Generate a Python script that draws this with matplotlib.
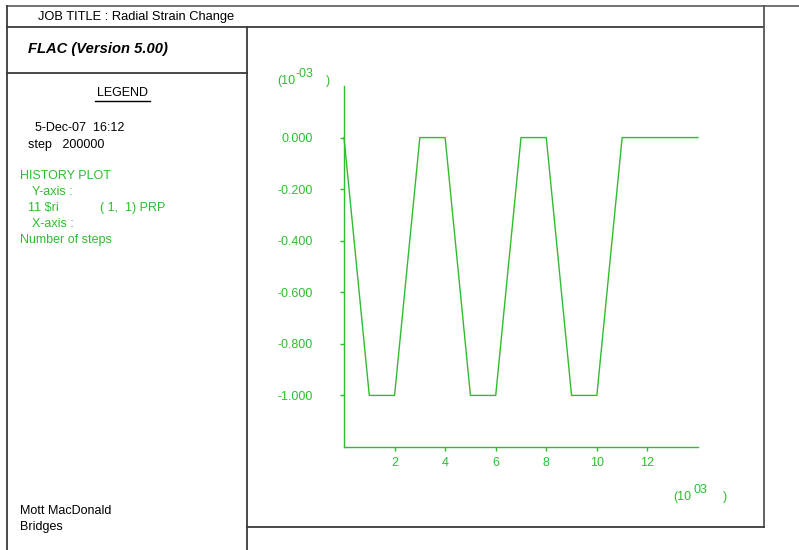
import matplotlib
matplotlib.use("Agg")
import matplotlib.pyplot as plt

plt.rcParams['font.family'] = ['Liberation Sans', 'DejaVu Sans']

# ---- data (x in 10^3 steps, y in 10^-3) ----
steps_k = [0, 1, 2, 3, 4, 5, 6, 7, 8, 9, 10, 11, 14]
strain_m3 = [0, -1, -1, 0, 0, -1, -1, 0, 0, -1, -1, 0, 0]
x_ticks = [2, 4, 6, 8, 10, 12]
y_ticks = [0.0, -0.2, -0.4, -0.6, -0.8, -1.0]
y_ticklabels = ["0.000", "-0.200", "-0.400", "-0.600", "-0.800", "-1.000"]

GREEN = "#2ebd2e"
FRAME = "#3a3a3a"
W, H = 799, 550

fig = plt.figure(figsize=(W / 100, H / 100), dpi=100)

# frame / layout overlay in pixel coordinates
ov = fig.add_axes([0, 0, 1, 1])
ov.set_xlim(0, W)
ov.set_ylim(H, 0)
ov.axis("off")
lw = 1.3
ov.plot([7, 799], [6, 6], color="#666666", lw=lw)
ov.plot([7, 7], [6, 550], color=FRAME, lw=lw)
ov.plot([7, 763], [26.5, 26.5], color=FRAME, lw=lw)
ov.plot([763.5, 763.5], [6, 527], color="#555555", lw=lw)
ov.plot([247, 247], [26.5, 550], color=FRAME, lw=lw)
ov.plot([7, 247], [72.5, 72.5], color=FRAME, lw=lw)
ov.plot([247, 763.5], [527, 527], color=FRAME, lw=lw)

fs = 9
ov.text(38, 17, "JOB TITLE : Radial Strain Change", fontsize=9.3, color="black", va="center")
ov.text(28, 49, "FLAC (Version 5.00)", fontsize=10.6, color="black", va="center",
        fontweight="bold", fontstyle="italic")
ov.text(122, 93, "LEGEND", fontsize=fs, color="black", va="center", ha="center")
ov.plot([95, 150], [100.5, 100.5], color="black", lw=1.0)
ov.text(35, 128, "5-Dec-07  16:12", fontsize=fs, color="black", va="center")
ov.text(28, 145, "step   200000", fontsize=fs, color="black", va="center")
ov.text(20, 176, "HISTORY PLOT", fontsize=fs, color=GREEN, va="center")
ov.text(32, 192, "Y-axis :", fontsize=fs, color=GREEN, va="center")
ov.text(28, 208, "11 $ri", fontsize=fs, color=GREEN, va="center", usetex=False)
ov.text(100, 208, "( 1,  1) PRP", fontsize=fs, color=GREEN, va="center")
ov.text(32, 224, "X-axis :", fontsize=fs, color=GREEN, va="center")
ov.text(20, 240, "Number of steps", fontsize=fs, color=GREEN, va="center")
ov.text(20, 511, "Mott MacDonald", fontsize=fs, color="black", va="center")
ov.text(20, 527, "Bridges", fontsize=fs, color="black", va="center")

# axis multiplier labels
ov.text(277, 81, "(10", fontsize=fs, color=GREEN, va="center")
ov.text(295, 74, "-03", fontsize=fs, color=GREEN, va="center")
ov.text(326, 81, ")", fontsize=fs, color=GREEN, va="center")
ov.text(673, 497, "(10", fontsize=fs, color=GREEN, va="center")
ov.text(694, 490, "03", fontsize=fs, color=GREEN, va="center")
ov.text(723, 497, ")", fontsize=fs, color=GREEN, va="center")

# data axes
left, right, top, bottom = 344, 698, 86, 447
ax = fig.add_axes([left / W, 1 - bottom / H, (right - left) / W, (bottom - top) / H])
ax.patch.set_alpha(0)
ax.plot(steps_k, strain_m3, color=GREEN, lw=1.0, clip_on=False)
ax.set_xlim(0, 14)
ax.set_ylim(-1.2, 0.2)
for s in ["top", "right"]:
    ax.spines[s].set_visible(False)
for s in ["left", "bottom"]:
    ax.spines[s].set_color(GREEN)
    ax.spines[s].set_linewidth(1.0)
ax.set_xticks(x_ticks)
ax.set_xticklabels([str(v) for v in x_ticks])
ax.set_yticks(y_ticks)
ax.set_yticklabels(y_ticklabels)
ax.tick_params(axis="y", colors=GREEN, length=3, width=1.0, pad=19.5, labelsize=fs)
ax.tick_params(axis="x", colors=GREEN, length=3, width=1.0, pad=4, labelsize=fs)

fig.savefig("out.png", dpi=100)
